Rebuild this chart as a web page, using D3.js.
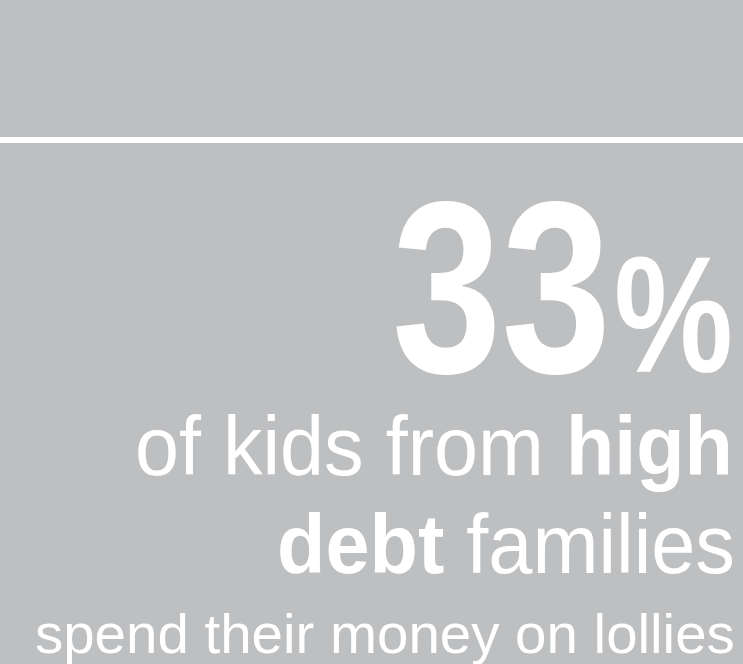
<!DOCTYPE html>
<html>
<head>
<meta charset="utf-8">
<script src="https://cdn.jsdelivr.net/npm/d3@7"></script>
<style>
  html, body { margin: 0; padding: 0; background: #bebfc1; }
  svg { display: block; }
</style>
</head>
<body>
<div id="chart"></div>
<script>
var svgWidth = 743;
var svgHeight = 664;

// figure data
var statValue = [33];
var statSuffix = ["%"];
var captionLines = [
    [{ text: "of kids from ", bold: false }, { text: "high", bold: true }],
    [{ text: "debt", bold: true }, { text: " families", bold: false }],
    [{ text: "spend their money on lollies", bold: false }]
];

// layout: baseline, font size and the x span each line is fitted into
var statLayout = { baseline: 372, size: 245, x0: 392, x1: 611 };
var suffixLayout = { baseline: 372, size: 166, x0: 614, x1: 733 };
var lineLayout = [
    { baseline: 475, size: 83, x0: 135, x1: 733 },
    { baseline: 573, size: 83, x0: 277, x1: 735 },
    { baseline: 653, size: 56, x0: 35, x1: 735 }
];

var bg = "#bebfc1";
var ink = "#ffffff";
var font = "'Liberation Sans', Arial, Helvetica, sans-serif";

var svg = d3.select("#chart")
    .append("svg")
    .attr("width", svgWidth)
    .attr("height", svgHeight);

svg.append("rect")
    .attr("width", svgWidth)
    .attr("height", svgHeight)
    .attr("fill", bg);

svg.append("rect")
    .attr("x", 0)
    .attr("y", 137)
    .attr("width", svgWidth)
    .attr("height", 6)
    .attr("fill", ink);

// squeeze a text horizontally so its ink fills x0..x1
function fitText(sel, x0, x1) {
    var box = sel.node().getBBox();
    var s = (x1 - x0) / box.width;
    sel.attr("transform", `translate(${x0 - box.x * s},0) scale(${s},1)`);
}

var stat = svg.append("text")
    .attr("x", 0)
    .attr("y", statLayout.baseline)
    .attr("font-family", font)
    .attr("font-weight", "bold")
    .attr("font-size", statLayout.size)
    .attr("fill", ink)
    .text(statValue[0]);
fitText(stat, statLayout.x0, statLayout.x1);

var suffix = svg.append("text")
    .attr("x", 0)
    .attr("y", suffixLayout.baseline)
    .attr("font-family", font)
    .attr("font-weight", "bold")
    .attr("font-size", suffixLayout.size)
    .attr("fill", ink)
    .text(statSuffix[0]);
fitText(suffix, suffixLayout.x0, suffixLayout.x1);

var lines = svg.selectAll("text.caption")
    .data(captionLines)
    .enter()
    .append("text")
    .attr("class", "caption")
    .attr("x", 0)
    .attr("y", (d, i) => lineLayout[i].baseline)
    .attr("font-family", font)
    .attr("font-size", (d, i) => lineLayout[i].size)
    .attr("fill", ink)
    .style("white-space", "pre");

lines.selectAll("tspan")
    .data(d => d)
    .enter()
    .append("tspan")
    .attr("font-weight", d => d.bold ? "bold" : "normal")
    .text(d => d.text);

lines.each(function (d, i) {
    fitText(d3.select(this), lineLayout[i].x0, lineLayout[i].x1);
});
</script>
</body>
</html>
